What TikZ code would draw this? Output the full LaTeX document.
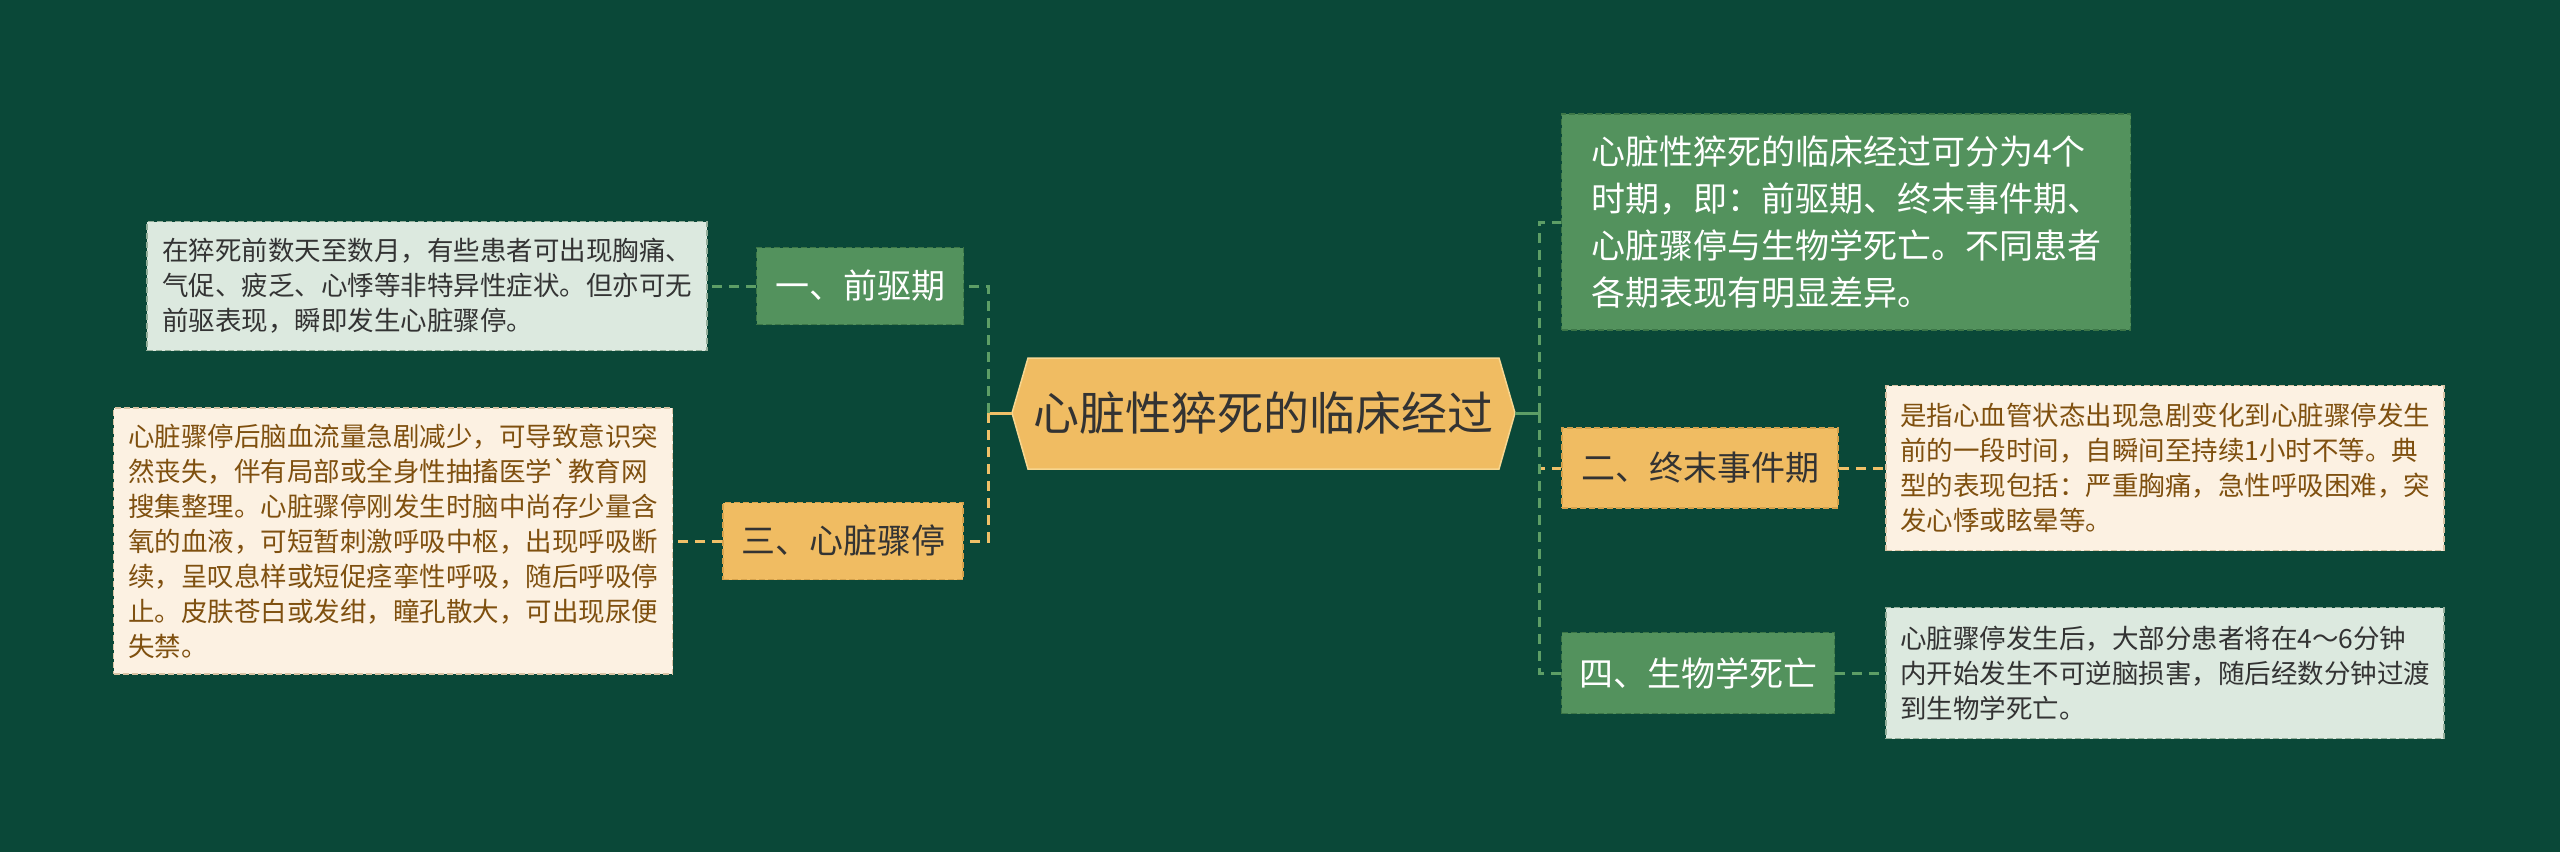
\documentclass[tikz,border=0pt]{standalone}
\usepackage{fontspec}
\setmainfont{Noto Sans CJK SC}[Ligatures=TeXOff]
\definecolor{bg}{HTML}{0A4838}
\definecolor{gnode}{HTML}{53925D}
\definecolor{gnodeb}{HTML}{3C7647}
\definecolor{onode}{HTML}{F0BC62}
\definecolor{onodeb}{HTML}{D6A24C}
\definecolor{ldesc}{HTML}{DCE9DF}
\definecolor{ldescb}{HTML}{93AE9A}
\definecolor{cdesc}{HTML}{FCF1E2}
\definecolor{cdescb}{HTML}{D8C3A4}
\definecolor{tdark}{HTML}{333333}
\definecolor{tbrown}{HTML}{7F500F}
\definecolor{glinkc}{HTML}{5D9E66}
\definecolor{olinkc}{HTML}{F0C068}
\definecolor{hexb}{HTML}{F7D690}
\begin{document}
\begin{tikzpicture}[x=1pt,y=-1pt,
  boxbase/.style={inner sep=0pt, align=left, line width=1.5pt, dash pattern=on 6pt off 3pt},
  greennode/.style={boxbase, fill=gnode, draw=gnodeb, text=white, font=\fontsize{34}{40}\selectfont},
  orangenode/.style={boxbase, fill=onode, draw=onodeb, text=tdark, font=\fontsize{34}{40}\selectfont},
  lightdesc/.style={boxbase, fill=ldesc, draw=ldescb, text=tdark, font=\fontsize{26.5}{35}\selectfont},
  creamdesc/.style={boxbase, fill=cdesc, draw=cdescb, text=tbrown, font=\fontsize{26.5}{35}\selectfont},
  topbox/.style={boxbase, fill=gnode, draw=gnodeb, text=white, font=\fontsize{34}{47}\selectfont},
  glink/.style={draw=glinkc, line width=3pt, dash pattern=on 10pt off 7pt},
  olink/.style={draw=olinkc, line width=3pt, dash pattern=on 10pt off 7pt},
  gstub/.style={draw=glinkc, line width=3pt},
  ostub/.style={draw=olinkc, line width=3pt}
]
\fill[bg] (0,0) rectangle (2560,852);
\useasboundingbox (0,0) rectangle (2560,852);

% central hexagon
\coordinate (cl) at (1012,413);
\coordinate (cr) at (1515,413);
\fill[onode, draw=hexb, line width=1.5pt] (cl) -- (1028,358) -- (1499,358) -- (cr) -- (1499,469) -- (1028,469) -- cycle;
\node[text=tdark, font=\fontsize{46}{52}\selectfont, inner sep=0pt] (c) at (1263,413) {心脏性猝死的临床经过};

% left branches
\node[greennode, minimum width=207pt, minimum height=77pt] (n1) at (860,286) {一、前驱期};
\node[lightdesc, minimum width=560pt, minimum height=129pt] (d1) at (427,286) {在猝死前数天至数月，有些患者可出现胸痛、\\气促、疲乏、心悸等非特异性症状。但亦可无\\前驱表现，瞬即发生心脏骤停。};

\node[orangenode, minimum width=240pt, minimum height=77pt] (n3) at (843,541) {三、心脏骤停};
\node[creamdesc, minimum width=559pt, minimum height=266pt] (d3) at (393,541) {心脏骤停后脑血流量急剧减少，可导致意识突\\然丧失，伴有局部或全身性抽搐医学`教育网\\搜集整理。心脏骤停刚发生时脑中尚存少量含\\氧的血液，可短暂刺激呼吸中枢，出现呼吸断\\续，呈叹息样或短促痉挛性呼吸，随后呼吸停\\止。皮肤苍白或发绀，瞳孔散大，可出现尿便\\失禁。};

% right branches
\node[topbox, minimum width=569pt, minimum height=216pt] (t) at (1846,222) {心脏性猝死的临床经过可分为4个\\时期，即：前驱期、终末事件期、\\心脏骤停与生物学死亡。不同患者\\各期表现有明显差异。};

\node[orangenode, minimum width=276pt, minimum height=80pt] (n2) at (1700,468) {二、终末事件期};
\node[creamdesc, minimum width=558pt, minimum height=165pt] (d2) at (2165,468) {是指心血管状态出现急剧变化到心脏骤停发生\\前的一段时间，自瞬间至持续1小时不等。典\\型的表现包括：严重胸痛，急性呼吸困难，突\\发心悸或眩晕等。};

\node[greennode, minimum width=273pt, minimum height=81pt] (n4) at (1698,673) {四、生物学死亡};
\node[lightdesc, minimum width=558pt, minimum height=131pt] (d4) at (2165,673) {心脏骤停发生后，大部分患者将在4～6分钟\\内开始发生不可逆脑损害，随后经数分钟过渡\\到生物学死亡。};

% connectors
\coordinate (sl) at (988,413);
\coordinate (sr) at (1539,413);
\draw[ostub] (cl) -- (sl);
\draw[glink] (sl) |- (n1.east);
\draw[olink] (sl) |- (n3.east);
\draw[gstub] (cr) -- (sr);
\draw[glink] (sr) |- (t.west);
\draw[olink] (sr) |- (n2.west);
\draw[glink] (sr) |- (n4.west);

\draw[glink] (n1.west) -- (d1.east);
\draw[olink] (n3.west) -- (d3.east);
\draw[olink] (n2.east) -- (d2.west);
\draw[glink] (n4.east) -- (d4.west);
\end{tikzpicture}
\end{document}
